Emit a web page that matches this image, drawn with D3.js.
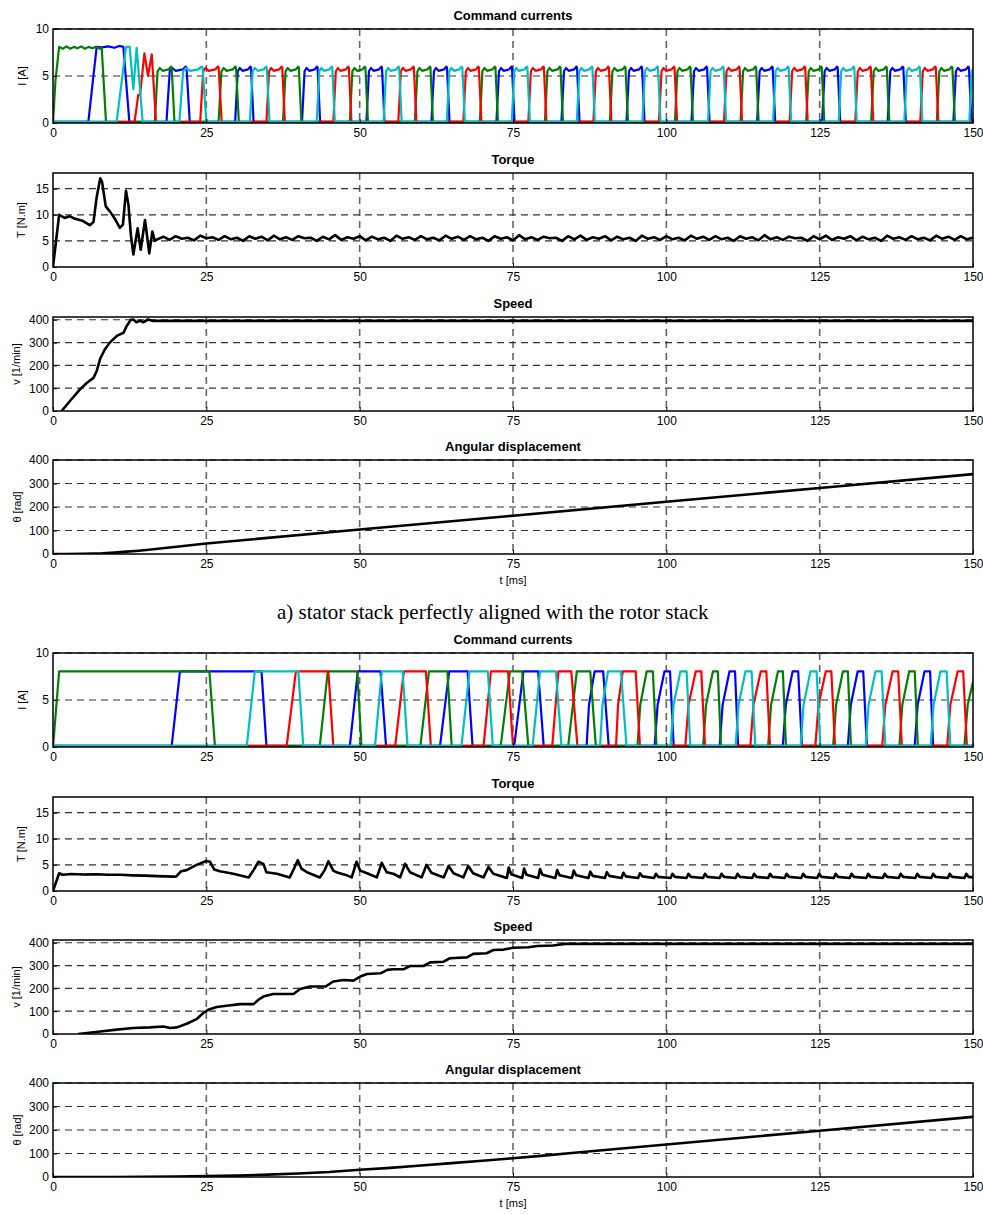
<!DOCTYPE html>
<html>
<head>
<meta charset="utf-8">
<script src="https://d3js.org/d3.v7.min.js"></script>
<style>
  body { margin: 0; background: #fff; }
  text { font-family: Arial, "Liberation Sans", Helvetica, sans-serif; }
</style>
</head>
<body>
<div id="vis"></div>
<script>
// ---- shared axis data
var timeTicks = [0, 25, 50, 75, 100, 125, 150];
var panelTitles = ["Command currents", "Torque", "Speed", "Angular displacement"];
var panelYLabels = ["I [A]", "T [N.m]", "v [1/min]", "\u03b8 [rad]"];
var panelYTicks = [[0, 5, 10], [0, 5, 10, 15], [0, 100, 200, 300, 400], [0, 100, 200, 300, 400]];
var panelYMax = [10, 18, 412, 400];
var phaseColors = { blue: "#0000ff", green: "#008000", red: "#ff0000", cyan: "#00bfbf" };
var caption = "a) stator stack perfectly aligned with the rotor stack";

// ---- a) aligned stacks: currents, start-up part [t ms, I A]
var aGreenStart = [[0,0],[0.4,4.5],[1.0,8.1],[1.6,7.9],[2.2,8.15],[2.8,7.9],[3.4,8.1],[4.0,7.95],[4.6,8.15],[5.2,7.9],[5.8,8.1],[6.4,7.95],[7.0,8.1],[7.6,7.9],[7.94,8.0],[8.64,0.12]];
var aBlueStart = [[0,0.12],[5.76,0.12],[7.12,8.1],[8.0,8.05],[9.0,8.15],[10.0,8.0],[10.8,8.2],[11.47,8.1],[12.45,0.12]];
var aCyanStart = [[0,0.12],[10.38,0.12],[11.9,8.1],[12.5,8.1],[13.1,3.6],[13.64,8.0],[14.62,0.12]];
var aRedStart = [[0,0.12],[13.3,0.12],[13.9,3.0],[14.2,3.0],[14.9,7.4],[15.5,5.0],[16.1,7.3],[16.8,0.12]];
// regular pulses [start ms, length ms]
var aGreenPulses = [[16.6,3.2],[27.0,3.3],[37.5,3.0],[48.4,2.95],[59.0,2.95],[69.6,2.95],[80.2,2.95],[90.8,2.95],[101.4,2.95],[112.1,2.95],[122.8,2.95],[133.4,2.95],[144.1,2.95]];
var aBluePulses = [[18.5,3.8],[29.7,3.0],[40.6,2.95],[51.1,2.95],[61.7,2.95],[72.3,2.95],[82.9,2.95],[93.5,2.95],[104.1,2.95],[114.8,2.95],[125.4,2.95],[136.1,2.95],[146.8,2.95]];
var aCyanPulses = [[20.6,4.4],[32.1,3.2],[43.0,2.95],[53.9,2.95],[64.2,2.95],[74.8,2.95],[85.4,2.95],[96.1,2.95],[106.8,2.95],[117.4,2.95],[128.1,2.95],[138.8,2.95],[149.4,2.95]];
var aRedPulses = [[24.0,3.5],[34.8,3.0],[45.7,2.95],[56.3,2.95],[66.9,2.95],[77.5,2.95],[88.1,2.95],[98.8,2.95],[109.4,2.95],[120.1,2.95],[130.8,2.95],[141.4,2.95]];
// pulse outline: [fraction of pulse length, I A]
var aPulseShape = [[0,0.12],[0.14,5.5],[0.25,5.85],[0.4,5.55],[0.7,5.7],[0.82,6.0],[0.86,5.9],[1,0.12]];

// torque a)
var aTorqueStart = [[0,0],[1.0,10.0],[1.9,9.4],[2.7,9.7],[3.5,9.3],[4.9,8.8],[6.0,8.0],[6.6,8.6],[7.1,13.2],[7.7,17.0],[8.0,16.3],[8.6,11.6],[9.3,10.6],[10.1,9.2],[10.9,7.5],[11.4,8.1],[11.9,14.6],[12.3,11.9],[12.7,6.1],[13.1,2.4],[13.8,7.4],[14.3,3.3],[15.0,9.0],[15.7,2.6],[16.2,6.8],[16.6,5.0]];
// steady torque, one value per ms from 17 ms
var aTorqueSteady = [5.3,5.8,5.2,5.9,5.4,5.6,5.1,6.0,5.5,5.7, 5.2,5.9,5.3,5.6,5.0,5.9,5.4,5.8,5.1,6.0,
  5.3,5.7,5.2,5.9,5.5,5.6,5.0,5.8,5.3,6.1, 5.2,5.7,5.4,5.9,5.1,5.8,5.3,5.6,5.0,6.0,
  5.4,5.7,5.2,5.9,5.3,5.6,5.1,6.0,5.4,5.8, 5.2,5.9,5.3,5.6,5.0,5.9,5.4,5.7,5.1,6.1,
  5.3,5.7,5.2,5.8,5.5,5.6,5.0,5.9,5.3,6.0, 5.2,5.7,5.4,5.9,5.1,5.8,5.3,5.6,5.0,6.0,
  5.4,5.7,5.2,5.9,5.3,5.6,5.1,6.0,5.4,5.8, 5.2,5.9,5.3,5.6,5.0,5.9,5.4,5.7,5.1,6.1,
  5.3,5.7,5.2,5.8,5.5,5.6,5.0,5.9,5.3,6.0, 5.2,5.7,5.4,5.9,5.1,5.8,5.3,5.6,5.0,6.0,
  5.4,5.7,5.2,5.9,5.3,5.6,5.1,6.0,5.4,5.8, 5.2,5.9,5.3,5.6];
var aTorqueSteadyFrom = 17;

// speed a) [t ms, 1/min]
var aSpeed = [[1.4,0],[2.8,45],[4.4,95],[5.5,123],[6.6,145],[7.1,173],[7.7,230],[8.5,272],[9.3,301],[10.4,329],[11.5,343],[12.0,372],[12.7,400],[13.1,401],[13.6,389],[14.2,396],[14.7,389],[15.5,401],[16.3,395],[150,395]];
// angle a) [t ms, rad]
var aAngle = [[0,0],[2,0],[5,1],[8,3],[10,6],[12,10],[14,14],[16,19],[25,45],[50,104],[75,163],[100,222],[125,281],[150,340]];

// ---- b) second case: currents as pulses [rise start, top reached, fall start, fall end, knee]
var bGreenPulses = [[0,1.0,25.5,26.4],[43.5,44.8,49.6,50.3],[59.9,61.3,64.3,65.0],[73.0,74.5,76.5,77.5],[84.0,85.4,87.6,88.5],[95.3,96.8,97.8,98.4,4.5],[106.0,107.6,108.4,108.9,4.5],[116.6,118.2,119.0,119.5,4.5],[127.2,128.8,129.6,130.1,4.5],[138.0,139.6,140.5,141.0,4.5],[148.6,150.4,151.0,151.5,4.5]];
var bBluePulses = [[19.35,20.7,34.0,34.8],[48.4,49.7,53.4,54.3],[63.1,64.6,67.6,68.4],[75.2,76.7,79.1,80.0],[87.0,88.3,89.7,90.6,4.5],[98.1,99.7,100.6,101.2,4.5],[108.7,110.3,111.2,111.7,4.5],[119.0,120.6,121.5,122.1,4.5],[129.6,131.2,132.1,132.7,4.5],[140.5,142.1,143.0,143.5,4.5]];
var bCyanPulses = [[31.6,32.9,40.0,40.8],[52.5,53.6,57.0,57.8],[66.6,67.9,70.9,71.7],[78.2,79.4,82.0,82.9],[89.2,90.5,92.6,93.5,4.5],[100.7,102.3,103.3,103.9,4.5],[111.3,112.9,113.9,114.5,4.5],[121.9,123.5,124.5,125.1,4.5],[132.5,134.1,135.1,135.7,4.5],[143.1,144.7,145.7,146.3,4.5]];
var bRedPulses = [[38.1,39.6,44.9,45.7],[55.8,57.2,60.8,61.6],[70.2,71.4,74.2,75.0],[81.4,82.4,84.5,85.5],[91.8,92.9,95.0,95.7,4.5],[103.1,104.8,105.7,106.3,4.5],[113.7,115.4,116.3,116.9,4.5],[124.3,126.0,126.9,127.5,4.5],[135.2,136.9,137.8,138.4,4.5],[145.8,147.5,148.4,149.0,4.5]];
var bLevel = 8.05;

// torque b)
var bTorqueStart = [[0,0],[1.0,3.4],[1.6,3.1],[3,3.25],[5,3.15],[7,3.2],[9,3.1],[11,3.1],[13,3.0],[15,2.95],[17,2.85],[19.6,2.75],[20.1,2.8],[20.9,3.8],[21.8,4.0],[23.4,5.0],[25.0,5.75],[25.6,5.6],[26.3,4.1],[27.2,3.8],[29.4,3.3],[31.9,2.6],[32.7,4.0],[33.5,5.6],[34.3,5.2],[34.8,3.6],[36.5,3.3],[38.6,2.6],[39.3,4.3],[39.9,5.9],[40.5,4.3],[41.4,3.6],[43.5,2.6],[44.3,4.0],[44.9,5.7],[45.7,3.9],[46.2,3.6],[47.9,3.0],[48.7,2.6],[49.5,5.6],[50.1,3.9],[51.2,3.4],[52.8,2.6],[53.6,5.4],[54.4,3.6],[55.5,3.3],[56.6,2.6],[57.4,5.2],[58.2,3.6],[60.1,2.6],[60.9,5.0],[61.7,3.5],[63.7,2.6],[64.5,4.8],[65.3,3.4],[66.9,2.6],[67.7,4.8],[68.5,3.4],[70.2,2.6],[71.0,4.6],[71.8,3.3]];
// later spikes [t ms, peak, value just after]
var bTorqueSpikes = [[74.3,4.5,3.2],[76.8,4.3,3.1],[79.4,4.2,3.1],[82.2,4.0,3.0],[84.9,3.9,3.0],[87.6,3.7,2.9],[90.3,3.6,2.9],[93.0,3.5,2.8],[95.7,3.4,2.8],[98.3,3.3,2.7],[101.0,3.3,2.7],[103.6,3.3,2.7],[106.3,3.3,2.7],[109.0,3.3,2.7],[111.6,3.3,2.7],[114.3,3.3,2.7],[116.9,3.3,2.7],[119.6,3.3,2.7],[122.3,3.3,2.7],[124.9,3.3,2.7],[127.6,3.3,2.7],[130.2,3.3,2.7],[132.9,3.3,2.7],[135.6,3.3,2.7],[138.2,3.3,2.7],[140.9,3.3,2.7],[143.5,3.3,2.7],[146.2,3.3,2.7],[148.9,3.3,2.7]];
var bTorqueBase = 2.5;

// speed b)
var bSpeed = [[4.1,0],[7.7,11],[10.4,19],[13.1,26],[15.8,29],[18.0,33],[19.1,26],[20.2,29],[21.8,45],[23.4,65],[24.5,92],[25.3,106],[26.7,118],[28.3,124],[30.5,131],[32.7,131],[33.5,150],[34.3,164],[35.9,175],[39.2,175],[40.3,197],[41.9,208],[44.4,208],[45.7,230],[47.4,237],[49.0,234],[50.1,252],[51.2,263],[53.4,266],[54.5,281],[55.5,284],[57.2,284],[58.2,298],[60.4,298],[61.5,314],[63.7,317],[64.7,332],[67.5,336],[68.5,351],[70.7,354],[71.8,368],[73.5,370],[75,378],[77.5,380],[79,386],[81.5,388],[83.5,395],[150,395]];
// angle b)
var bAngle = [[0,0],[10,0.3],[20,2],[25,4],[30,6],[35,10],[40,15],[45,21],[50,31],[55,39],[60,49],[65,59],[70,69],[75,80],[80,91],[85,103],[100,138],[125,197],[150,256]];

// ---- build line point lists from the data above
function pulsesA(start, pulses) {
  var pts = start.slice();
  pulses.forEach(function (p) {
    aPulseShape.forEach(function (s) { pts.push([p[0] + s[0] * p[1], s[1]]); });
  });
  pts.push([150, 0.12]);
  return pts;
}
function pulsesB(pulses) {
  var pts = pulses[0][0] > 0 ? [[0, 0.12]] : [];
  pulses.forEach(function (p) {
    pts.push([p[0], p[0] === 0 ? 0 : 0.12]);
    if (p[4]) pts.push([p[0] + 0.3 * (p[1] - p[0]), p[4]]);
    pts.push([p[1], bLevel], [p[2], bLevel], [p[3], 0.12]);
  });
  pts.push([152, 0.12]);
  return pts;
}
function steadyTorque(start, values, from) {
  return start.concat(values.map(function (v, i) { return [from + i, v]; }));
}
function spikeTorque(start, spikes) {
  var pts = start.slice();
  spikes.forEach(function (s) {
    pts.push([s[0] - 0.3, bTorqueBase], [s[0], s[1]], [s[0] + 0.4, s[2]]);
  });
  pts.push([150, 2.6]);
  return pts;
}

var blocks = [
  {
    tops: [29, 173, 317, 460],
    lines: [
      [
        { pts: pulsesA(aBlueStart, aBluePulses), color: phaseColors.blue },
        { pts: pulsesA(aGreenStart, aGreenPulses), color: phaseColors.green },
        { pts: pulsesA(aRedStart, aRedPulses), color: phaseColors.red },
        { pts: pulsesA(aCyanStart, aCyanPulses), color: phaseColors.cyan }
      ],
      [{ pts: steadyTorque(aTorqueStart, aTorqueSteady, aTorqueSteadyFrom), color: "#000" }],
      [{ pts: aSpeed, color: "#000" }],
      [{ pts: aAngle, color: "#000" }]
    ]
  },
  {
    tops: [653, 797, 940, 1083],
    lines: [
      [
        { pts: pulsesB(bBluePulses), color: phaseColors.blue },
        { pts: pulsesB(bGreenPulses), color: phaseColors.green },
        { pts: pulsesB(bRedPulses), color: phaseColors.red },
        { pts: pulsesB(bCyanPulses), color: phaseColors.cyan }
      ],
      [{ pts: spikeTorque(bTorqueStart, bTorqueSpikes), color: "#000" }],
      [{ pts: bSpeed, color: "#000" }],
      [{ pts: bAngle, color: "#000" }]
    ]
  }
];

// ---- drawing
var W = 983, H = 1214;
var left = 53, right = 973, panelH = 94;
var yLabelX = [23, 22, 17, 18];

var svg = d3.select("#vis").append("svg")
  .attr("width", W).attr("height", H)
  .style("background", "#fff");

var x = d3.scaleLinear().domain([0, 150]).range([left, right]);

function drawPanel(top, k, lines, isLast, id) {
  var bottom = top + panelH;
  var y = d3.scaleLinear().domain([0, panelYMax[k]]).range([bottom, top]);
  var g = svg.append("g");

  // grid
  g.selectAll(null).data(timeTicks.slice(1, -1)).enter().append("line")
    .attr("x1", function (d) { return x(d); }).attr("x2", function (d) { return x(d); })
    .attr("y1", top).attr("y2", bottom)
    .attr("stroke", "#666").attr("stroke-width", 1.6).attr("stroke-dasharray", "7,5");
  g.selectAll(null).data(panelYTicks[k].filter(function (d) { return d > 0; })).enter().append("line")
    .attr("x1", left).attr("x2", right)
    .attr("y1", function (d) { return y(d); }).attr("y2", function (d) { return y(d); })
    .attr("stroke", "#333").attr("stroke-width", 1.2).attr("stroke-dasharray", "7,5");

  // lines
  svg.append("clipPath").attr("id", id).append("rect")
    .attr("x", left).attr("y", top).attr("width", right - left).attr("height", panelH);
  var line = d3.line().x(function (d) { return x(d[0]); }).y(function (d) { return y(d[1]); });
  lines.forEach(function (l) {
    g.append("path").datum(l.pts)
      .attr("d", line)
      .attr("fill", "none")
      .attr("stroke", l.color)
      .attr("stroke-width", k === 0 ? 2.2 : 2.6)
      .attr("stroke-linejoin", "round")
      .attr("clip-path", "url(#" + id + ")");
  });

  // frame
  g.append("rect").attr("x", left).attr("y", top).attr("width", right - left).attr("height", panelH)
    .attr("fill", "none").attr("stroke", "#000").attr("stroke-width", 1.5);

  // axes
  var ax = g.append("g").attr("transform", "translate(0," + bottom + ")")
    .call(d3.axisBottom(x).tickValues(timeTicks).tickSizeInner(-4).tickSizeOuter(0).tickPadding(5));
  var ay = g.append("g").attr("transform", "translate(" + left + ",0)")
    .call(d3.axisLeft(y).tickValues(panelYTicks[k]).tickSizeInner(-4).tickSizeOuter(0).tickPadding(4));
  [ax, ay].forEach(function (a) {
    a.select(".domain").remove();
    a.attr("font-family", "Arial, 'Liberation Sans', sans-serif").attr("font-size", 12);
    a.selectAll("line").attr("stroke", "#000");
    a.selectAll("text").attr("fill", "#000");
  });

  // title and labels
  g.append("text").attr("x", (left + right) / 2).attr("y", top - 9)
    .attr("text-anchor", "middle").attr("font-size", 13).attr("font-weight", "bold")
    .text(panelTitles[k]);
  g.append("text")
    .attr("transform", "translate(" + yLabelX[k] + "," + (top + panelH / 2) + ") rotate(-90)")
    .attr("text-anchor", "middle").attr("dominant-baseline", "middle").attr("font-size", 11)
    .text(panelYLabels[k]);
  if (isLast) {
    g.append("text").attr("x", (left + right) / 2).attr("y", bottom + 30)
      .attr("text-anchor", "middle").attr("font-size", 11).text("t [ms]");
  }
}

blocks.forEach(function (b, bi) {
  b.tops.forEach(function (top, k) {
    drawPanel(top, k, b.lines[k], k === 3, "clip" + bi + "_" + k);
  });
});

svg.append("text").attr("x", 277).attr("y", 619)
  .style("font-family", "'Liberation Serif', 'Times New Roman', serif")
  .attr("font-size", 21).text(caption);
</script>
</body>
</html>
